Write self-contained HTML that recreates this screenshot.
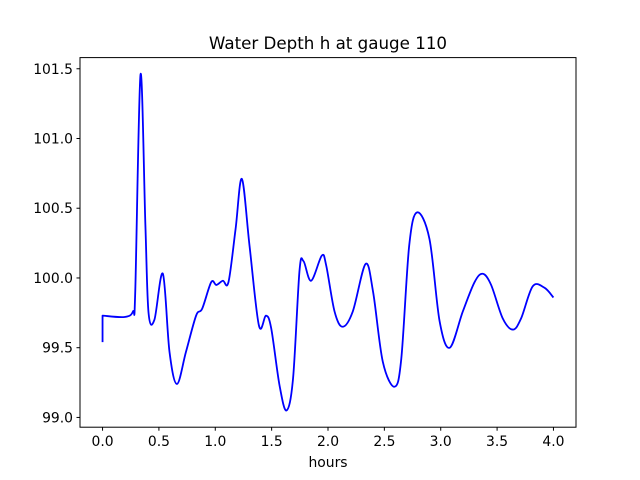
<!DOCTYPE html>
<html><head><meta charset="utf-8"><style>
body{margin:0;background:#fff;}
svg{display:block;font-family:"DejaVu Sans","Liberation Sans",sans-serif;}
</style></head><body>
<svg id="chart" width="640" height="480">
<rect width="640" height="480" fill="#fff"/>
<text x="328" y="49" font-size="16.7" text-anchor="middle">Water Depth h at gauge 110</text>
<g id="ticks"></g>
<path id="line" fill="none" stroke="#0000ff" stroke-width="1.8" stroke-linejoin="round"/>
<rect x="80" y="57.6" width="496" height="369.6" fill="none" stroke="#000" stroke-width="1"/>
<text x="328" y="467" font-size="13.9" text-anchor="middle">hours</text>
</svg>
<script>
const hours=[0,0,0.195,0.27,0.29,0.337,0.38,0.408,0.46,0.535,0.594,0.66,0.74,0.83,0.884,0.964,1.01,1.067,1.117,1.18,1.236,1.304,1.387,1.45,1.496,1.57,1.632,1.69,1.747,1.783,1.85,1.945,1.984,2.058,2.13,2.22,2.333,2.40,2.486,2.59,2.65,2.72,2.79,2.90,2.99,3.08,3.196,3.30,3.373,3.447,3.55,3.64,3.713,3.816,3.92,4.0];
const depth=[99.54,99.73,99.72,99.76,99.90,101.46,100.38,99.75,99.70,100.03,99.47,99.24,99.47,99.73,99.78,99.97,99.95,99.98,99.97,100.35,100.71,100.23,99.66,99.73,99.64,99.23,99.05,99.28,100.05,100.12,99.98,100.16,100.09,99.76,99.65,99.76,100.10,99.90,99.40,99.22,99.42,100.23,100.47,100.28,99.69,99.50,99.76,99.97,100.03,99.95,99.71,99.63,99.71,99.94,99.93,99.86];
const xTicks=[0,0.5,1,1.5,2,2.5,3,3.5,4];
const yTicks=[99.0,99.5,100.0,100.5,101.0,101.5];
const X0=80,X1=576,Y0=57.6,Y1=427.2,xmin=-0.2,xmax=4.2,ymin=98.93,ymax=101.58;
function sx(v){return X0+(v-xmin)/(xmax-xmin)*(X1-X0);}
function sy(v){return Y1-(v-ymin)/(ymax-ymin)*(Y1-Y0);}
const NS="http://www.w3.org/2000/svg";
const g=document.getElementById('ticks');
xTicks.forEach(t=>{
  const l=document.createElementNS(NS,'line');
  l.setAttribute('x1',sx(t));l.setAttribute('x2',sx(t));l.setAttribute('y1',Y1);l.setAttribute('y2',Y1+3.5);l.setAttribute('stroke','#000');
  
  
  g.appendChild(l);
  const tx=document.createElementNS(NS,'text');
  tx.setAttribute('x',sx(t));tx.setAttribute('y',Y1+19);tx.setAttribute('font-size','13.9');tx.setAttribute('text-anchor','middle');
  tx.textContent=t.toFixed(1);
  
  
  g.appendChild(tx);
});
yTicks.forEach(t=>{
  const l=document.createElementNS(NS,'line');
  l.setAttribute('x1',X0-3.5);l.setAttribute('x2',X0);l.setAttribute('y1',sy(t));l.setAttribute('y2',sy(t));l.setAttribute('stroke','#000');
  
  
  g.appendChild(l);
  const tx=document.createElementNS(NS,'text');
  tx.setAttribute('x',X0-7);tx.setAttribute('y',sy(t)+5);tx.setAttribute('font-size','13.9');tx.setAttribute('text-anchor','end');
  tx.textContent=t.toFixed(1);
  
  
  g.appendChild(tx);
});
const P=hours.map((h,i)=>[sx(h),sy(depth[i])]);
let d='M'+P[0][0]+','+P[0][1]+' L'+P[1][0]+','+P[1][1];
for(let i=1;i<P.length-1;i++){
  const p0=P[Math.max(i-1,1)],p1=P[i],p2=P[i+1],p3=P[Math.min(i+2,P.length-1)];
  const c1=[p1[0]+(p2[0]-p0[0])/6,p1[1]+(p2[1]-p0[1])/6];
  const c2=[p2[0]-(p3[0]-p1[0])/6,p2[1]-(p3[1]-p1[1])/6];
  d+=' C'+c1[0]+','+c1[1]+' '+c2[0]+','+c2[1]+' '+p2[0]+','+p2[1];
}
document.getElementById('line').setAttribute('d',d);
</script>
</body></html>
